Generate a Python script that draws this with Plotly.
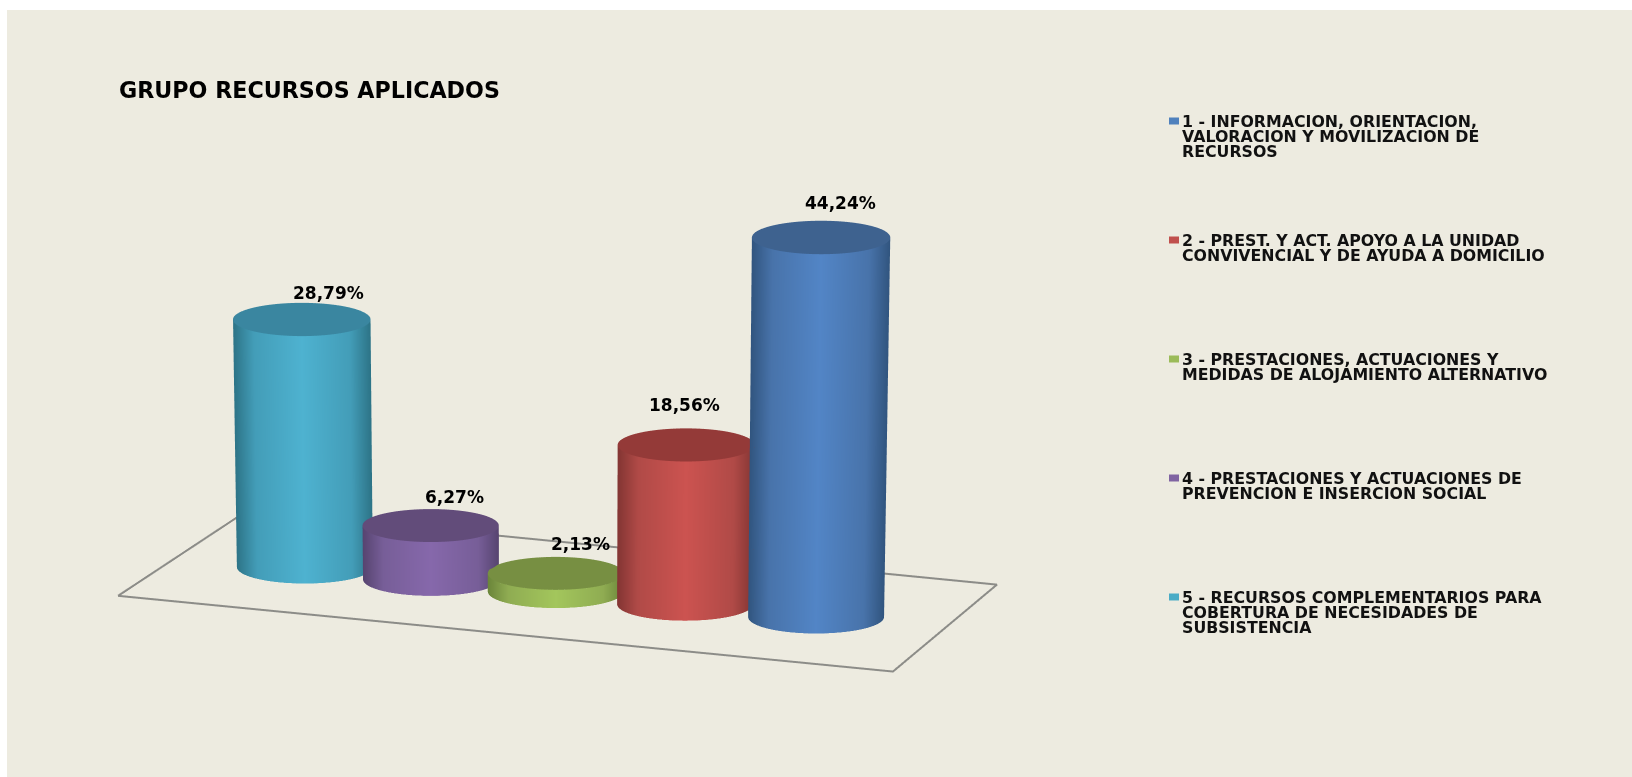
import numpy as np
import plotly.graph_objects as go

TITLE = "GRUPO RECURSOS APLICADOS"
LEGEND_LINES = [
    ["1 - INFORMACION, ORIENTACION,", "VALORACION Y MOVILIZACION DE", "RECURSOS"],
    ["2 - PREST. Y ACT. APOYO A LA UNIDAD", "CONVIVENCIAL Y DE AYUDA A DOMICILIO"],
    ["3 - PRESTACIONES, ACTUACIONES Y", "MEDIDAS DE ALOJAMIENTO ALTERNATIVO"],
    ["4 - PRESTACIONES Y ACTUACIONES DE", "PREVENCION E INSERCION SOCIAL"],
    ["5 - RECURSOS COMPLEMENTARIOS PARA", "COBERTURA DE NECESIDADES DE", "SUBSISTENCIA"],
]
VALUES = [44.24, 18.56, 2.13, 6.27, 28.79]
# series run right to left along the floor
POSITIONS = [4.069, 3.04, 2.024, 1.044, 0.053]

LEGEND_COLORS = ["#4F81BD", "#C0504D", "#9BBB59", "#8064A2", "#4BACC6"]
SIDE_LIGHT = ["#5285C6", "#CC5350", "#A3C65C", "#8668AB", "#4EB2D0"]
SIDE_MID = ["#4873AA", "#B04A47", "#8FAC52", "#775E98", "#439DB8"]
SIDE_DARK = ["#31557F", "#833533", "#6B853A", "#574470", "#2D7487"]
TOP_COLORS = ["#3E628F", "#943A38", "#778F42", "#624C7A", "#3A86A0"]
LABEL_SHIFT = [(19, -34), (-2, -40), (25, -29), (24, -29), (27, -26)]

FLOOR_X = [-0.885, -0.973, 4.924, 5.202, -0.885]
FLOOR_Y = [-1.36, 1.36, 1.35, -1.36, -1.36]

BG = "#EDEBE0"
W, H = 1632, 777
FONT = "DejaVu Sans"
RADIUS = 0.495
ROW_Y = -0.05
# the original has slight perspective: tall bars splay outward and widen at the top
LEAN = 0.00043
FLARE = 0.0004

AZ = np.deg2rad(22)
EL = np.deg2rad(14)
# orthographic view: the scale comes from the aspect ratio, not the eye distance
k = 0.358
D = 2.0
view = np.array([np.sin(AZ) * np.cos(EL), -np.cos(AZ) * np.cos(EL), np.sin(EL)])
right = np.array([np.cos(AZ), np.sin(AZ), 0])
up = np.array([-np.sin(EL) * np.sin(AZ), np.sin(EL) * np.cos(AZ), np.cos(EL)])
center = right * 0.689 + up * -0.0482
eye = center + D * view

fig = go.Figure()

fig.add_trace(go.Scatter3d(
    x=FLOOR_X, y=FLOOR_Y, z=[0] * 5, mode="lines",
    line=dict(color="#8C8C88", width=4),
    hoverinfo="skip", showlegend=False,
))

theta = np.linspace(0, 2 * np.pi, 181)
facing = np.arctan2(-np.cos(AZ), np.sin(AZ))
flat = dict(ambient=1, diffuse=0, specular=0, fresnel=0, roughness=1)
annotations = []
for i, value in enumerate(VALUES):
    pos = POSITIONS[i]
    top_pos = pos + LEAN * (pos - 2) * value
    top_r = RADIUS * (1 + FLARE * value)
    # side wall, shaded from the direction it faces
    shade = np.abs(np.sin(theta - facing))
    fig.add_trace(go.Surface(
        x=np.array([pos + RADIUS * np.cos(theta), top_pos + top_r * np.cos(theta)]),
        y=np.array([ROW_Y + RADIUS * np.sin(theta), ROW_Y + top_r * np.sin(theta)]),
        z=np.array([np.zeros_like(theta), np.full_like(theta, value)]),
        surfacecolor=np.array([shade, shade]), cmin=0, cmax=1,
        colorscale=[[0, SIDE_LIGHT[i]], [0.7, SIDE_MID[i]], [1, SIDE_DARK[i]]],
        showscale=False, hoverinfo="skip", lighting=flat,
    ))
    # top cap
    rr = np.array([0, top_r])
    fig.add_trace(go.Surface(
        x=top_pos + np.outer(rr, np.cos(theta)), y=ROW_Y + np.outer(rr, np.sin(theta)),
        z=np.full((2, theta.size), value),
        surfacecolor=np.zeros((2, theta.size)), cmin=0, cmax=1,
        colorscale=[[0, TOP_COLORS[i]], [1, TOP_COLORS[i]]],
        showscale=False, hoverinfo="skip", lighting=flat,
    ))
    annotations.append(dict(
        x=top_pos, y=ROW_Y, z=value, text=f"{value:.2f}%".replace(".", ","),
        showarrow=False, xshift=LABEL_SHIFT[i][0], yshift=-LABEL_SHIFT[i][1],
        font=dict(family=FONT, size=17, color="#000000", weight="bold"),
    ))

axis = dict(visible=False, showgrid=False, zeroline=False, showspikes=False)
fig.update_layout(
    width=W, height=H,
    margin=dict(l=0, r=0, t=0, b=0),
    paper_bgcolor="#FFFFFF",
    showlegend=False,
    scene=dict(
        domain=dict(x=[7 / W, 1], y=[0, 1 - 10 / H]),
        bgcolor=BG,
        xaxis=dict(range=[-1.5, 5.5], **axis),
        yaxis=dict(range=[-1.5, 1.5], **axis),
        zaxis=dict(range=[0, 50], **axis),
        aspectmode="manual",
        aspectratio=dict(x=7 * k, y=3 * k, z=3.225 * k),
        camera=dict(
            eye=dict(x=eye[0], y=eye[1], z=eye[2]),
            center=dict(x=center[0], y=center[1], z=center[2]),
            up=dict(x=0, y=0, z=1),
            projection=dict(type="orthographic"),
        ),
        annotations=annotations,
    ),
)

paper_notes = [dict(
    x=117 / W, y=1 - 90 / H, xref="paper", yref="paper", text=TITLE,
    xanchor="left", yanchor="middle", showarrow=False,
    font=dict(family=FONT, size=22.2, color="#000000", weight="bold"),
)]
for i, lines in enumerate(LEGEND_LINES):
    row_y = 121 + 119 * i
    for j, line in enumerate(lines):
        paper_notes.append(dict(
            x=1180 / W, y=1 - (row_y + 15 * j) / H, xref="paper", yref="paper",
            text=line, xanchor="left", yanchor="middle", showarrow=False,
            font=dict(family=FONT, size=15.8, color="#111111", weight="bold"),
        ))
    fig.add_shape(
        type="rect", xref="paper", yref="paper",
        x0=1169 / W, x1=1179 / W, y0=1 - (row_y + 3.5) / H, y1=1 - (row_y - 3.5) / H,
        fillcolor=LEGEND_COLORS[i], line_width=0,
    )
fig.update_layout(annotations=paper_notes)

# drop the browser's default body margin so the page lines up with the figure size
fig.write_html("out.html", config=dict(displayModeBar=False),
               post_script="document.body.style.margin = '0';")
